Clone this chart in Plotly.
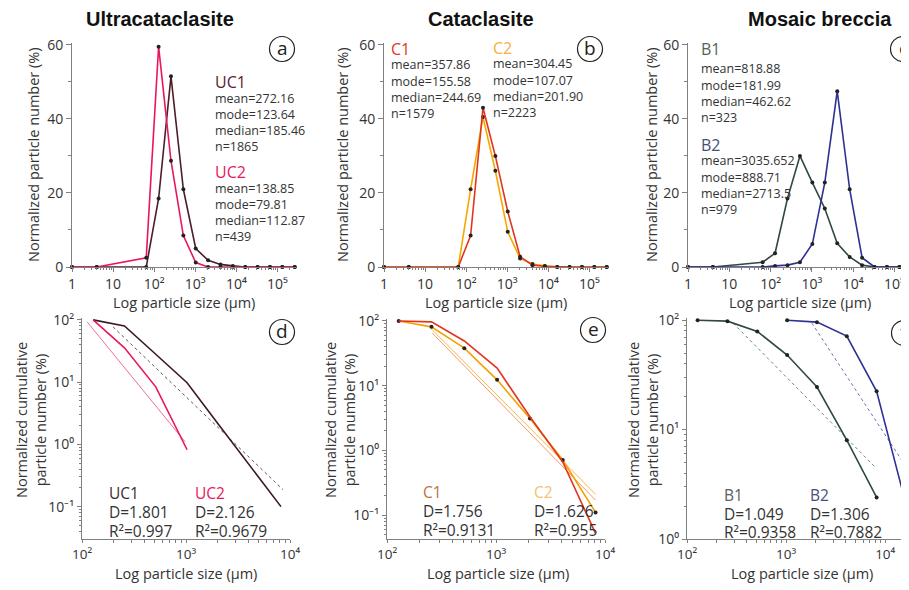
import plotly.graph_objects as go

# page body has an 8px margin: draw the figure 8px smaller and shift coordinates
OFF = 8
W, H = 909 - OFF, 590 - OFF

# ---------------- data ----------------
bins = [1, 4, 64, 128, 256, 512, 1024, 2048, 4096, 8192, 16384, 32768, 65536, 131072, 262144]
uc1_freq = [0, 0, 0, 18.5, 51.5, 21, 5, 1.8, 0.7, 0.3, 0, 0, 0, 0, 0]
uc2_freq = [0, 0, 2.5, 59.5, 28.7, 8.5, 1.2, 0, 0, 0, 0, 0, 0, 0, 0]
c1_freq = [0, 0, 0, 8.5, 43, 30, 15, 2.8, 0.5, 0.2, 0, 0, 0, 0, 0]
c2_freq = [0, 0, 0, 21, 40.5, 26, 9.5, 2.3, 0.8, 0.3, 0, 0, 0, 0, 0]
b1_freq = [0, 0, 1.3, 3.7, 18.5, 30, 22.8, 15.8, 6.4, 2.7, 0.5, 0, 0, 0, 0]
b2_freq = [0, 0, 0, 0.3, 0.5, 1.3, 6.2, 22.8, 47.5, 21, 2.5, 0, 0, 0, 0]

cum_bins = [128, 256, 512, 1024, 2048, 4096, 8192]
uc1_cum = [100, 80, 28, 9.8, 2.1, 0.46, 0.1]
uc2_bins = [128, 256, 512, 1024]
uc2_cum = [100, 35.5, 8.4, 0.82]
c1_cum = [100, 96.6, 49, 18.7, 3.3, 0.66, 0.052]
c2_cum = [100, 81, 38, 12.3, 3.1, 0.71, 0.11]
b1_bins = [128, 256, 512, 1024, 2048, 4096, 8192]
b1_cum = [100, 98, 79, 48, 24.5, 8, 2.4]
b2_bins = [1024, 2048, 4096, 8192, 16384]
b2_cum = [100, 96, 71.5, 22.4, 2.0]

uc1_fit_x, uc1_fit_y = [199, 8570], [77, 0.187]
uc2_fit_x, uc2_fit_y = [112, 980], [93, 1.1]
c1_fit_x, c1_fit_y = [260, 8192], [65, 0.17]
c2_fit_x, c2_fit_y = [250, 8192], [78, 0.21]
b1_fit_x, b1_fit_y = [292, 7800], [94, 4.6]
b2_fit_x, b2_fit_y = [1820, 15200], [94, 5.0]

titles = ["Ultracataclasite", "Cataclasite", "Mosaic breccia"]
lin_ticks = [0, 20, 40, 60]
top_xt_vals = [1, 10, 100, 1000, 10000, 100000]
top_xt_text = ["1", "10", "10²", "10³", "10⁴", "10⁵"]
bot_xt_vals = [100, 1000, 10000]
bot_xt_text = ["10²", "10³", "10⁴"]
d_yt_vals = [0.1, 1, 10, 100]
d_yt_text = ["10⁻¹", "10⁰", "10¹", "10²"]
f_yt_vals = [1, 10, 100]
f_yt_text = ["10⁰", "10¹", "10²"]

stats_a = [("UC1", "#5a2230", ["mean=272.16", "mode=123.64", "median=185.46", "n=1865"]),
           ("UC2", "#e8175d", ["mean=138.85", "mode=79.81", "median=112.87", "n=439"])]
stats_b = [("C1", "#e0361e", ["mean=357.86", "mode=155.58", "median=244.69", "n=1579"]),
           ("C2", "#f7b040", ["mean=304.45", "mode=107.07", "median=201.90", "n=2223"])]
stats_c = [("B1", "#55625c", ["mean=818.88", "mode=181.99", "median=462.62", "n=323"]),
           ("B2", "#4a4f78", ["mean=3035.652", "mode=888.71", "median=2713.5", "n=979"])]
fits_d = [("UC1", "#3a2a2a", "D=1.801", "R²=0.997"), ("UC2", "#e8175d", "D=2.126", "R²=0.9679")]
fits_e = [("C1", "#c0703a", "D=1.756", "R²=0.9131"), ("C2", "#f5c070", "D=1.626", "R²=0.955")]
fits_f = [("B1", "#55625c", "D=1.049", "R²=0.9358"), ("B2", "#4a4f78", "D=1.306", "R²=0.7882")]

# ---------------- helpers ----------------
def px(x):
    return (x - OFF) / W

def py(y):
    return 1 - (y - OFF) / H

FONT = "Open Sans"
TXT = "#333333"
AX = "#808080"

fig = go.Figure()

def minor_log(lo, hi):
    vals = []
    for e in range(lo, hi):
        for m in range(2, 10):
            vals.append(m * 10 ** e)
    return vals

def add_line(x, y, color, ax, width=1.6, marker=True, dash=None):
    fig.add_trace(go.Scatter(
        x=x, y=y, xaxis="x" + ax, yaxis="y" + ax,
        mode="lines+markers" if marker else "lines",
        line=dict(color=color, width=width, dash=dash),
        marker=dict(color="#222222", size=4),
        cliponaxis=False, showlegend=False, hoverinfo="skip"))

# top panels
add_line(bins, uc1_freq, "#4b1f26", "1")
add_line(bins, uc2_freq, "#e8175d", "1")
add_line(bins, c2_freq, "#f7a800", "2")
add_line(bins, c1_freq, "#e0361e", "2")
add_line(bins, b1_freq, "#2f4a40", "3")
add_line(bins, b2_freq, "#2e3192", "3")

# bottom panels
add_line(uc1_fit_x, uc1_fit_y, "#6a5050", "4", width=1, marker=False, dash="dot")
add_line(uc2_fit_x, uc2_fit_y, "#f07090", "4", width=1, marker=False)
add_line(cum_bins, uc1_cum, "#3a1a1e", "4", width=1.6, marker=False)
add_line(uc2_bins, uc2_cum, "#e8175d", "4", width=1.6, marker=False)

add_line(c1_fit_x, c1_fit_y, "#f29a6a", "5", width=1, marker=False)
add_line(c2_fit_x, c2_fit_y, "#f7b840", "5", width=1, marker=False)
add_line(cum_bins, c2_cum, "#f7a000", "5")
add_line(cum_bins, c1_cum, "#e0361e", "5", marker=False)

add_line(b1_fit_x, b1_fit_y, "#6a8a7a", "6", width=1, marker=False, dash="dot")
add_line(b2_fit_x, b2_fit_y, "#6a70a8", "6", width=1, marker=False, dash="dot")
add_line(b1_bins, b1_cum, "#2f4a40", "6")
add_line(b2_bins, b2_cum, "#2e3192", "6")

tickfont = dict(family=FONT, size=14, color=TXT)
tickfont_b = dict(family=FONT, size=13.5, color=TXT)

def xaxis_top(x0, x1, rng):
    return dict(domain=[px(x0), px(x1)], type="log", range=rng,
                showgrid=False, zeroline=False, showline=True, linecolor=AX, linewidth=1,
                tickmode="array", tickvals=top_xt_vals, ticktext=top_xt_text,
                ticks="outside", ticklen=4, tickcolor=AX, tickfont=tickfont, automargin=False,
                minor=dict(tickvals=minor_log(0, 6), ticks="outside", ticklen=2, tickcolor=AX))

def yaxis_top():
    return dict(domain=[py(267), py(43)], range=[0, 60.5],
                showgrid=False, zeroline=False, showline=True, linecolor=AX, linewidth=1,
                tickmode="array", tickvals=lin_ticks, ticks="outside", ticklen=5, tickcolor=AX,
                tickfont=tickfont, automargin=False,
                minor=dict(tickvals=[10, 30, 50], ticks="outside", ticklen=3, tickcolor=AX))

def xaxis_bot(x0, x1, rng):
    return dict(domain=[px(x0), px(x1)], type="log", range=rng,
                showgrid=False, zeroline=False, showline=True, linecolor=AX, linewidth=1,
                tickmode="array", tickvals=bot_xt_vals, ticktext=bot_xt_text,
                ticks="outside", ticklen=3, tickcolor=AX, tickfont=tickfont_b, automargin=False,
                minor=dict(tickvals=minor_log(2, 5), ticks="outside", ticklen=3, tickcolor=AX))

def yaxis_bot(y0, y1, rng, vals, text, lo, hi):
    return dict(domain=[py(y0), py(y1)], type="log", range=rng,
                showgrid=False, zeroline=False, showline=True, linecolor=AX, linewidth=1,
                tickmode="array", tickvals=vals, ticktext=text,
                ticks="outside", ticklen=4, tickcolor=AX, tickfont=tickfont, automargin=False,
                minor=dict(tickvals=minor_log(lo, hi), ticks="outside", ticklen=2, tickcolor=AX))

layout = dict(
    width=W, height=H, margin=dict(l=0, r=0, t=0, b=0, pad=0, autoexpand=False),
    paper_bgcolor="white", plot_bgcolor="rgba(0,0,0,0)",
    showlegend=False,
    xaxis=dict(xaxis_top(72, 296, [0, 5.45]), anchor="y"),
    yaxis=dict(yaxis_top(), anchor="x"),
    xaxis2=dict(xaxis_top(384, 608, [0, 5.45]), anchor="y2"),
    yaxis2=dict(yaxis_top(), anchor="x2"),
    xaxis3=dict(xaxis_top(688, 909, [0, 5.35]), anchor="y3"),
    yaxis3=dict(yaxis_top(), anchor="x3"),
    xaxis4=dict(xaxis_bot(82, 290, [2, 4]), anchor="y4"),
    yaxis4=dict(yaxis_bot(539, 318, [-1.52, 2.03], d_yt_vals, d_yt_text, -2, 2), anchor="x4"),
    xaxis5=dict(xaxis_bot(387, 605, [2, 4]), anchor="y5"),
    yaxis5=dict(yaxis_bot(539, 319, [-1.37, 2.03], d_yt_vals, d_yt_text, -2, 2), anchor="x5"),
    xaxis6=dict(xaxis_bot(687, 909, [2, 4.24]), anchor="y6"),
    yaxis6=dict(yaxis_bot(539, 318, [0, 2.02], f_yt_vals, f_yt_text, 0, 2), anchor="x6"),
)
fig.update_layout(**layout)

anns = []
shapes = []

def text(x, y, s, size=12.5, color=TXT, xanchor="left", angle=0, family=FONT):
    anns.append(dict(x=px(x), y=py(y), xref="paper", yref="paper", text=s, showarrow=False,
                     xanchor=xanchor, yanchor="middle", textangle=angle,
                     font=dict(family=family, size=size, color=color)))

# column titles
for t, cx in zip(titles, [160, 481, 820]):
    text(cx, 19, "<b>%s</b>" % t, size=20, color="#111111", xanchor="center", family="Liberation Sans")

# circled letters
for letter, cx, cy in [("a", 282, 49), ("b", 590, 49), ("c", 903, 49),
                       ("d", 282, 332), ("e", 593, 330), ("f", 904, 333)]:
    shapes.append(dict(type="circle", xref="paper", yref="paper",
                       x0=px(cx - 12.5), x1=px(cx + 12.5), y0=py(cy + 12.5), y1=py(cy - 12.5),
                       line=dict(color="#222222", width=1.2)))
    text(cx, cy - 1, letter, size=19, color="#222222", xanchor="center")

# axis titles
for cx in [184, 496, 800]:
    text(cx, 302, "Log particle size (µm)", size=14.5, xanchor="center")
    text(cx + 2, 573, "Log particle size (µm)", size=14.5, xanchor="center")
for cx in [33, 342, 651]:
    text(cx, 155, "Normalized particle number (%)", size=14.5, xanchor="center", angle=-90)
for cx in [31, 340, 643]:
    anns.append(dict(x=px(cx), y=py(420), xref="paper", yref="paper",
                     text="Normalized cumulative<br>particle number (%)", showarrow=False,
                     xanchor="center", yanchor="middle", textangle=-90,
                     font=dict(family=FONT, size=14.5, color=TXT)))

# stats text in top panels
def stat_block(x, y, label, color, lines, step=16.3, gap=0):
    text(x, y, label, size=16, color=color)
    for i, s in enumerate(lines):
        text(x, y + 16 + gap + i * step, s, size=12.5)

stat_block(213, 82, *stats_a[0])
stat_block(213, 172, *stats_a[1])
stat_block(389, 49, *stats_b[0])
stat_block(491, 48, *stats_b[1])
stat_block(699, 49, *stats_c[0], gap=4)
stat_block(699, 145, *stats_c[1])

# fit text in bottom panels
for (lab, col, d, r), x in zip(fits_d, [107, 193]):
    text(x, 493, lab, size=15.5, color=col)
    text(x, 512, d, size=15.5)
    text(x, 531, r, size=15.5)
for (lab, col, d, r), x in zip(fits_e, [421, 532]):
    text(x, 492, lab, size=15.5, color=col)
    text(x, 511, d, size=15.5)
    text(x, 530, r, size=15.5)
for (lab, col, d, r), x in zip(fits_f, [722, 808]):
    text(x, 495, lab, size=15.5, color=col)
    text(x, 514, d, size=15.5)
    text(x, 532, r, size=15.5)

fig.update_layout(annotations=anns, shapes=shapes)
fig.write_html("out.html")
